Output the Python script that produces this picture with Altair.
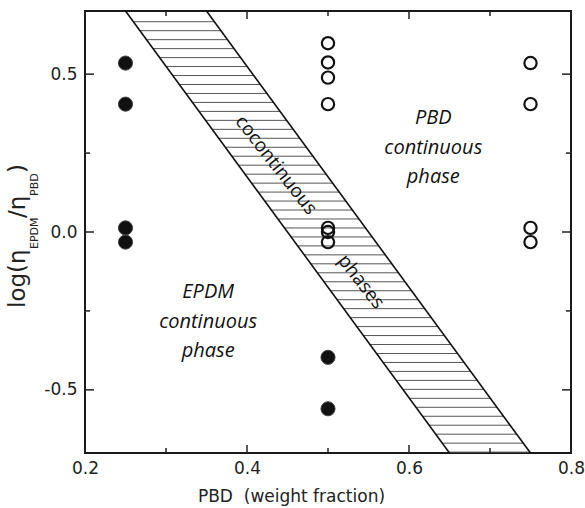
import altair as alt
import numpy as np
import pandas as pd

# ---- data ----
filled_x = [0.25, 0.25, 0.25, 0.25, 0.5, 0.5]
filled_y = [0.535, 0.405, 0.013, -0.032, -0.397, -0.56]

open_x = [0.5, 0.5, 0.5, 0.5, 0.5, 0.5, 0.5, 0.75, 0.75, 0.75, 0.75]
open_y = [0.598, 0.537, 0.489, 0.405, 0.013, 0.0, -0.032, 0.535, 0.405, 0.013, -0.032]

band_y = [0.7, -0.7]
band_left_x = [0.25, 0.65]
band_right_x = [0.35, 0.75]

x_major = [0.2, 0.4, 0.6, 0.8]
x_minor = [0.3, 0.5, 0.7]
y_major = [-0.5, 0.0, 0.5]
y_minor = [-0.25, 0.25]

region_text = ["PBD\ncontinuous\nphase", "EPDM\ncontinuous\nphase"]
region_x = [0.63, 0.352]
region_y = [0.36, -0.191]

band_text = ["cocontinuous", "phases"]
band_text_x = [0.436, 0.541]
band_text_y = [0.212, -0.157]

# ---- layout ----
W, H = 486, 442
FONT = "DejaVu Sans"
xs = alt.Scale(domain=[0.2, 0.8], nice=False, zero=False)
ys = alt.Scale(domain=[-0.7, 0.7], nice=False, zero=False)

xaxis = alt.Axis(values=x_major, format=".1f", ticks=False, domain=False, grid=False,
                 labelFlush=False, labelBound=False,
                 labelFont=FONT, labelFontSize=17, labelColor="#222", labelPadding=7,
                 title="PBD\u00a0 (weight fraction)", titleFont=FONT, titleFontSize=17,
                 titleFontWeight="normal", titleColor="#222", titleX=206, titleY=48,
                 titleAlign="center", titleBaseline="alphabetic")
yaxis = alt.Axis(values=y_major, ticks=False, domain=False, grid=False, title="",
                 labelFlush=False, labelBound=False,
                 labelExpr="datum.value < 0 ? '-' + format(-datum.value, '.1f') : format(datum.value, '.1f')",
                 labelFont=FONT, labelFontSize=17, labelColor="#222", labelPadding=8)

def X(f):
    return alt.X(f, type="quantitative", scale=xs, axis=xaxis)

def Y(f):
    return alt.Y(f, type="quantitative", scale=ys, axis=yaxis)

# hatch lines inside the band (decoration)
hatch_y = np.arange(0.666, -0.7, -0.0284)
hatch_df = pd.DataFrame({
    "y": hatch_y,
    "xl": np.interp(hatch_y, band_y[::-1], band_left_x[::-1]),
    "xr": np.interp(hatch_y, band_y[::-1], band_right_x[::-1]),
})
band_df = pd.DataFrame({
    "x": band_left_x + band_right_x,
    "y": band_y + band_y,
    "side": ["left", "left", "right", "right"],
})
filled_df = pd.DataFrame({"x": filled_x, "y": filled_y})
open_df = pd.DataFrame({"x": open_x, "y": open_y})
region_df = pd.DataFrame({"t": region_text, "x": region_x, "y": region_y})
band_text_df = pd.DataFrame({"t": band_text, "x": band_text_x, "y": band_text_y})

hatch = alt.Chart(hatch_df).mark_rule(color="#555", strokeWidth=1).encode(
    x=X("xl"), x2="xr:Q", y=Y("y"))

band = alt.Chart(band_df).mark_line(color="#111", strokeWidth=1.6).encode(
    x=X("x"), y=Y("y"), detail="side:N")

filled = alt.Chart(filled_df).mark_point(
    shape="circle", filled=True, fill="#111", stroke="#444", strokeWidth=1, size=200, opacity=1
).encode(x=X("x"), y=Y("y"))

opened = alt.Chart(open_df).mark_point(
    shape="circle", filled=False, stroke="#111", strokeWidth=2.2, size=150, opacity=1
).encode(x=X("x"), y=Y("y"))

regions = alt.Chart(region_df).mark_text(
    font="Open Sans", fontSize=20, fontStyle="italic", color="#111",
    lineBreak="\n", lineHeight=29.5, align="center", baseline="middle"
).encode(x=X("x"), y=Y("y"), text="t:N")

band_labels = alt.Chart(band_text_df).mark_text(
    font="Open Sans", fontSize=19, fontWeight=500, color="#111", angle=52,
    align="center", baseline="middle"
).encode(x=X("x"), y=Y("y"), text="t:N")

# inward ticks on all four sides
def vticks(vals, length, top):
    df = pd.DataFrame({"v": vals})
    y0 = 0 if top else H
    y1 = length if top else H - length
    return alt.Chart(df).mark_rule(color="#222", strokeWidth=1.5).encode(
        x=X("v"), y=alt.value(y0), y2=alt.value(y1))

def hticks(vals, length, right):
    df = pd.DataFrame({"v": vals})
    x0 = W if right else 0
    x1 = W - length if right else length
    return alt.Chart(df).mark_rule(color="#222", strokeWidth=1.5).encode(
        y=Y("v"), x=alt.value(x0), x2=alt.value(x1))

ticks = [vticks(x_major, 8, False), vticks(x_minor, 5, False),
         vticks(x_major, 8, True), vticks(x_minor, 5, True),
         hticks(y_major, 9, False), hticks(y_minor, 5, False),
         hticks(y_major, 9, True), hticks(y_minor, 5, True)]

# y-axis title built from pieces (with subscripts), rotated
def piece(txt, px, py, size):
    return alt.Chart(pd.DataFrame({"t": [txt]})).mark_text(
        font=FONT, fontSize=size, color="#222", angle=270, align="left", baseline="alphabetic"
    ).encode(text="t:N", x=alt.value(px), y=alt.value(py))

ytitle = [piece("log(\u03b7", -60, 297, 23),
          piece("EPDM", -47, 238, 11),
          piece("/\u03b7", -60, 207, 23),
          piece("PBD", -47, 185, 11),
          piece(")", -60, 162, 23)]

chart = alt.layer(hatch, band, *ticks, filled, opened, regions, band_labels, *ytitle).properties(
    width=W, height=H,
    autosize=alt.AutoSizeParams(type="none"),
    padding={"left": 85, "top": 11, "right": 14, "bottom": 55},
).configure_view(stroke="#1a1a1a", strokeWidth=2)

chart.save("out.html", embed_options={"renderer": "svg", "actions": False})
